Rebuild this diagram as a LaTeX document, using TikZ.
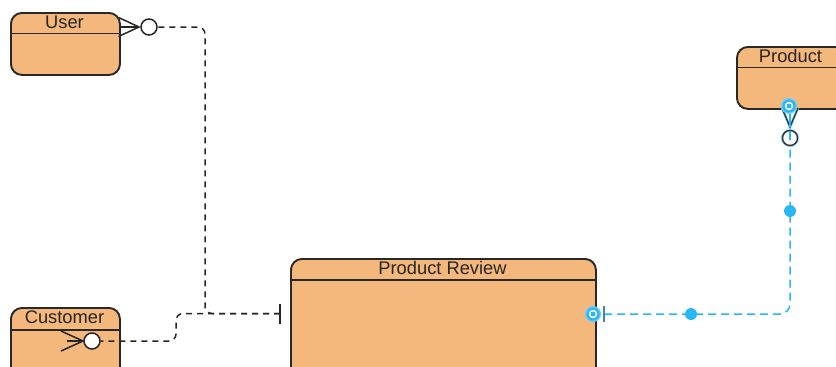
\documentclass[tikz,border=0pt]{standalone}
\usepackage{fontspec}
\setmainfont{Liberation Sans}
\definecolor{entfill}{RGB}{244,183,124}
\definecolor{entdraw}{RGB}{40,40,40}
\definecolor{selblue}{RGB}{41,182,246}
\definecolor{barblue}{RGB}{70,130,170}
\tikzset{
  entity/.style={draw=entdraw, fill=entfill, line width=1.9pt, rounded corners=11pt, anchor=north west, inner sep=0pt},
  hdr/.style={draw=entdraw, line width=1.7pt},
  ttl/.style={anchor=base, inner sep=0pt, text=black!85, font=\fontsize{18.3}{20}\selectfont},
  rel/.style={draw=black!85, line width=1.5pt, dash pattern=on 6pt off 5pt, rounded corners=7pt},
  relsel/.style={draw=selblue, line width=1.5pt, dash pattern=on 8pt off 5pt, rounded corners=10pt},
  foot/.style={draw=black!85, line width=1.5pt},
  ring/.style={circle, draw=black!85, fill=white, line width=1.5pt, minimum size=16pt, inner sep=0pt},
  handle/.style={circle, fill=selblue, minimum size=12pt, inner sep=0pt},
}
\begin{document}
\begin{tikzpicture}[x=1pt,y=-1pt]
\useasboundingbox (0,0) rectangle (836,367);
\clip (0,0) rectangle (836,367);
% entities
\node[entity, minimum width=109pt, minimum height=62pt] (user) at (10,12) {};
\draw[hdr] (10,33.5) -- (119,33.5);
\node[ttl] (usert) at (64.5,28) {User};

\node[entity, minimum width=109pt, minimum height=80pt] (cust) at (10,307) {};
\draw[hdr] (10,330) -- (119,330);
\node[ttl] (custt) at (64.5,323) {Customer};

\node[entity, minimum width=305pt, minimum height=130pt] (prev) at (290,258) {};
\draw[hdr] (290,280) -- (595,280);
\node[ttl] (prevt) at (442.5,274) {Product Review};

\node[entity, minimum width=109pt, minimum height=62pt] (prod) at (736,46) {};
\draw[hdr] (736,67.5) -- (845,67.5);
\node[ttl] (prodt) at (790.5,62) {Product};

% connector User -- Product Review
\node[ring] (uring) at (149,27) {};
\draw[foot] (118.5,17.5) -- (139,27) -- (118.5,36.5);
\draw[foot] (118.5,27) -- (139,27);
\coordinate (joinbar) at (280,313.5);
\draw[rel] (joinbar) -- (205,313.5) -- (205,27) -- (uring.east);

% connector Customer -- Product Review
\node[ring] (cring) at (92,341) {};
\draw[foot] (61,331) -- (83,341) -- (61,351);
\draw[foot] (67,341) -- (83,341);
\draw[rel] (joinbar) -- (176,313.5) -- (176,341) -- (cring.east);
\draw[line width=2pt, draw=black!85] (280,304) -- (280,324);

% connector Product Review -- Product (selected)
\coordinate (pbar) at (604,314);
\node[ring, draw=selblue!60, line width=3pt, minimum size=15pt] (pringglow) at (790,138) {};
\node[ring, draw=black!80, line width=1.4pt, minimum size=15pt] (pring) at (790,138) {};
\draw[relsel] (pbar) -- (790,314) -- (pring.south);
\draw[line width=2.2pt, draw=barblue] (604,306) -- (604,322);
\draw[foot, draw=selblue!60, line width=2.6pt] (782,108) -- (790,127) -- (798,108);
\draw[foot, draw=black!80, line width=1.3pt] (782,108) -- (790,127) -- (798,108);
\draw[foot, draw=selblue] (790,114) -- (790,127);
\draw[line width=1.4pt, draw=selblue] (790,131) -- (790,140);
\node[handle] (h1) at (691,314) {};
\node[handle] (h2) at (790,211) {};
% selection markers
\foreach \p/\n in {{593,314}/ma,{789,106}/mb}{
  \node[circle, fill=selblue!70, minimum size=16pt, inner sep=0pt] (\n) at (\p) {};
  \node[circle, fill=selblue, minimum size=13pt, inner sep=0pt] at (\p) {};
  \node[circle, fill=white, minimum size=8.5pt, inner sep=0pt] at (\p) {};
  \node[circle, fill=selblue, minimum size=5pt, inner sep=0pt] at (\p) {};
}
\end{tikzpicture}
\end{document}
